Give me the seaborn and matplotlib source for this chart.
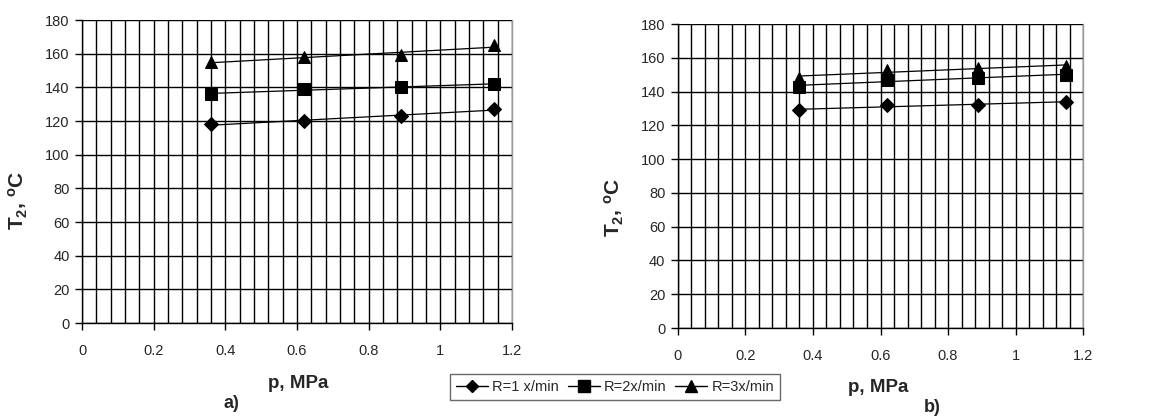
import numpy as np
import pandas as pd
import matplotlib
matplotlib.use("Agg")
import matplotlib.pyplot as plt
from matplotlib.lines import Line2D
import seaborn as sns

# Data
pressure = [0.36, 0.62, 0.89, 1.15]
series_labels = ["R=1 x/min", "R=2x/min", "R=3x/min"]
markers = ["D", "s", "^"]
marker_sizes = [7, 9, 9]

# panel a)
a_r1 = [118, 120, 123, 127]
a_r2 = [136, 139, 140, 142]
a_r3 = [155, 158, 159, 165]

# panel b)
b_r1 = [129, 132, 132, 134]
b_r2 = [143, 147, 148, 150]
b_r3 = [148, 153, 154, 155]

sns.set_style("white")
plt.rcParams["font.family"] = ["Liberation Sans", "DejaVu Sans"]
plt.rcParams["mathtext.fontset"] = "custom"
plt.rcParams["mathtext.rm"] = "Liberation Sans:bold"
plt.rcParams["mathtext.bf"] = "Liberation Sans:bold"
plt.rcParams["mathtext.default"] = "bf"

fig = plt.figure(figsize=(11.54, 4.17), dpi=100)
ax_a = fig.add_axes([0.0711, 0.2254, 0.3726, 0.7266])
ax_b = fig.add_axes([0.5875, 0.2134, 0.3510, 0.7290])


def draw_panel(ax, values):
    for vals, lab, mk, ms in zip(values, series_labels, markers, marker_sizes):
        df = pd.DataFrame({"p": pressure, "T": vals})
        # linear trend line through each series
        sns.regplot(data=df, x="p", y="T", ax=ax, ci=None, truncate=True,
                    scatter=False, line_kws={"color": "black", "lw": 0.9})
        sns.lineplot(data=df, x="p", y="T", ax=ax, marker=mk, markersize=ms,
                     color="black", linestyle="none", label=lab, legend=False,
                     markeredgecolor="black")
    ax.set_xlim(0, 1.2)
    ax.set_ylim(0, 180)
    ax.set_xticks(np.arange(0, 1.21, 0.2))
    ax.set_xticklabels(["0", "0.2", "0.4", "0.6", "0.8", "1", "1.2"])
    ax.set_xticks(np.arange(0, 1.2001, 0.04), minor=True)
    ax.set_yticks(np.arange(0, 181, 20))
    ax.grid(True, which="both", axis="x", color="black", lw=1.0)
    ax.grid(True, which="major", axis="y", color="black", lw=1.0)
    ax.set_axisbelow(True)
    ax.tick_params(axis="both", which="major", direction="out", length=5,
                   width=1, color="black", labelsize=10.5, pad=10,
                   left=True, bottom=True)
    ax.tick_params(axis="x", which="minor", length=0)
    ax.tick_params(axis="y", pad=4)
    for side in ["left", "bottom"]:
        ax.spines[side].set_color("black")
        ax.spines[side].set_linewidth(1)
    ax.spines["top"].set_visible(False)
    ax.spines["right"].set_color("#999999")
    ax.spines["right"].set_linewidth(1)
    ax.set_xlabel("")
    ax.set_ylabel("")


draw_panel(ax_a, [a_r1, a_r2, a_r3])
draw_panel(ax_b, [b_r1, b_r2, b_r3])

ylab = r"T$_2$, $^o$C"
fig.text(18 / 1154, 1 - 200 / 417, ylab, rotation=90, ha="center",
         va="center", fontsize=15, fontweight="bold")
fig.text(614 / 1154, 1 - 207 / 417, ylab, rotation=90, ha="center",
         va="center", fontsize=15, fontweight="bold")
fig.text(298 / 1154, 1 - 383 / 417, "p, MPa", ha="center", va="center",
         fontsize=13.5, fontweight="bold")
fig.text(231 / 1154, 1 - 403 / 417, "a)", ha="center", va="center",
         fontsize=13, fontweight="bold")
fig.text(878 / 1154, 1 - 388 / 417, "p, MPa", ha="center", va="center",
         fontsize=13.5, fontweight="bold")
fig.text(932 / 1154, 1 - 407 / 417, "b)", ha="center", va="center",
         fontsize=13, fontweight="bold")

handles = [Line2D([], [], color="black", lw=1, marker=mk, markersize=ms - 1)
           for mk, ms in zip(markers, marker_sizes)]
leg = fig.legend(handles, series_labels, loc="center",
                 bbox_to_anchor=(615 / 1154, 1 - 387 / 417), ncol=3,
                 frameon=True, fancybox=False, fontsize=10.5, handlelength=2.2,
                 columnspacing=0.6, handletextpad=0.3, borderpad=0.4)
leg.get_frame().set_edgecolor("#444444")
leg.get_frame().set_linewidth(1)

fig.savefig("out.png", dpi=100)
